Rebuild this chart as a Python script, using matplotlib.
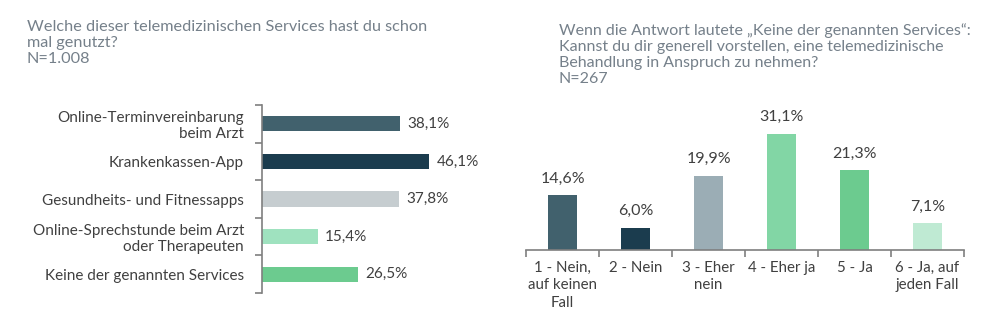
import matplotlib
matplotlib.use("Agg")
import matplotlib.pyplot as plt
from matplotlib import font_manager

# Data
left_categories = [
    "Online-Terminvereinbarung\nbeim Arzt",
    "Krankenkassen-App",
    "Gesundheits- und Fitnessapps",
    "Online-Sprechstunde beim Arzt\noder Therapeuten",
    "Keine der genannten Services",
]
left_values = [38.1, 46.1, 37.8, 15.4, 26.5]
left_colors = ["#41616d", "#1b3c4e", "#c6cdd0", "#9fe2bf", "#6ccb8f"]

right_categories = [
    "1 - Nein,\nauf keinen\nFall",
    "2 - Nein",
    "3 - Eher\nnein",
    "4 - Eher ja",
    "5 - Ja",
    "6 - Ja, auf\njeden Fall",
]
right_values = [14.6, 6.0, 19.9, 31.1, 21.3, 7.1]
right_colors = ["#41616d", "#1b3c4e", "#9badb5", "#82d6a5", "#6ccb8f", "#bfead3"]

left_title = "Welche dieser telemedizinischen Services hast du schon\nmal genutzt?\nN=1.008"
right_title = ("Wenn die Antwort lautete \u201eKeine der genannten Services\u201c:\n"
               "Kannst du dir generell vorstellen, eine telemedizinische\n"
               "Behandlung in Anspruch zu nehmen?\nN=267")


def fmt(v):
    return f"{v:.1f}%".replace(".", ",")


names = {f.name for f in font_manager.fontManager.ttflist}
family = "Lato" if "Lato" in names else "DejaVu Sans"
plt.rcParams["font.family"] = [family, "DejaVu Sans"]
plt.rcParams["font.weight"] = "normal"

TITLE_C = "#75808a"
TEXT_C = "#404040"
SPINE_C = "#7f7f7f"

W, H = 1000, 329
fig = plt.figure(figsize=(W / 100, H / 100), dpi=100)
fig.patch.set_facecolor("white")

# Left: horizontal bars
axl = fig.add_axes([262 / W, (H - 293) / H, 218 / W, 188 / H])
yl = list(range(len(left_values)))
axl.barh(yl, left_values, height=0.4, color=left_colors)
axl.set_ylim(len(left_values) - 0.5, -0.5)
axl.set_xlim(0, 60)
for s in ["top", "right", "bottom"]:
    axl.spines[s].set_visible(False)
axl.spines["left"].set_color(SPINE_C)
axl.spines["left"].set_linewidth(1.2)
axl.set_xticks([])
axl.set_yticks(yl)
axl.set_yticklabels(left_categories, fontsize=11, color=TEXT_C,
                    linespacing=1.2)
axl.tick_params(axis="y", which="major", length=0, pad=13)
axl.set_yticks([i - 0.5 for i in range(len(left_values) + 1)], minor=True)
axl.tick_params(axis="y", which="minor", length=5, width=1.2, color=SPINE_C,
                direction="out")
for i, v in enumerate(left_values):
    axl.annotate(fmt(v), (v, i), xytext=(5, 0), textcoords="offset points",
                 va="center", ha="left", fontsize=11, color=TEXT_C)

fig.text(27 / W, 1 - 20 / H, left_title, ha="left", va="top", fontsize=11.7,
         color=TITLE_C, linespacing=1.17)

# Right: vertical bars
axr = fig.add_axes([526 / W, (H - 250) / H, 438 / W, 140 / H])
xr = list(range(len(right_values)))
axr.bar(xr, right_values, width=0.4, color=right_colors)
axr.set_xlim(-0.5, len(right_values) - 0.5)
axr.set_ylim(0, 37.5)
for s in ["top", "right", "left"]:
    axr.spines[s].set_visible(False)
axr.spines["bottom"].set_color(SPINE_C)
axr.spines["bottom"].set_linewidth(1.2)
axr.set_yticks([])
axr.set_xticks(xr)
axr.set_xticklabels(right_categories, fontsize=10.8, color=TEXT_C,
                    linespacing=1.3)
axr.tick_params(axis="x", which="major", length=0, pad=8)
axr.set_xticks([i - 0.5 for i in range(len(right_values) + 1)], minor=True)
axr.tick_params(axis="x", which="minor", length=5, width=1.2, color=SPINE_C,
                direction="out")
for i, v in enumerate(right_values):
    axr.annotate(fmt(v), (i, v), xytext=(0, 7), textcoords="offset points",
                 va="bottom", ha="center", fontsize=11.5, color=TEXT_C)

fig.text(559 / W, 1 - 23 / H, right_title, ha="left", va="top", fontsize=11.5,
         color=TITLE_C, linespacing=1.2)

fig.savefig("out.png", dpi=100, facecolor="white")
